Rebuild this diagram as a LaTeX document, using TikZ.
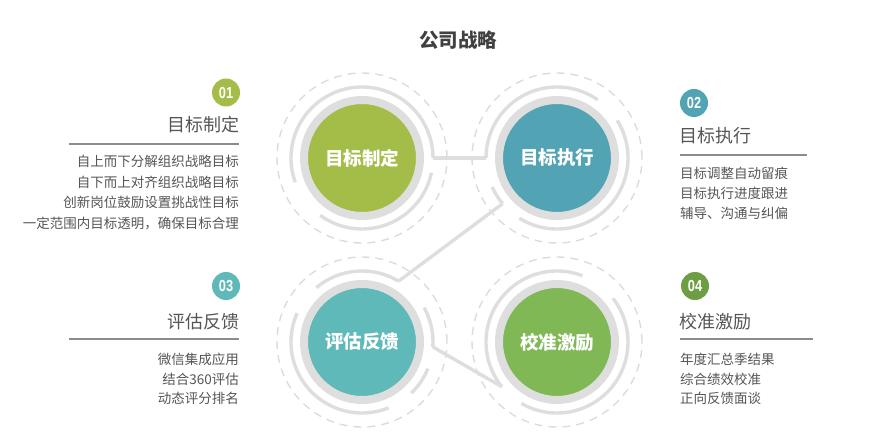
\documentclass[tikz,border=0pt]{standalone}
\usepackage{fontspec}
\setmainfont{Noto Sans CJK SC}
\newfontfamily\numfont[FakeStretch=0.8]{Liberation Sans}
\usepackage{tikz}
\usetikzlibrary{calc, positioning}
\definecolor{ringgray}{HTML}{DEDEDE}
\definecolor{dashgray}{HTML}{DCDCDC}
\definecolor{titlegray}{HTML}{404040}
\definecolor{textgray}{HTML}{555555}
\definecolor{rulegray}{HTML}{8C8C8C}
\definecolor{setcol}{HTML}{A4BD48}
\definecolor{runcol}{HTML}{52A3B3}
\definecolor{evalcol}{HTML}{5FB9B9}
\definecolor{tunecol}{HTML}{7FB855}
\definecolor{tunebadge}{HTML}{6E9E44}
\newcommand{\trackarc}[3]{%
    \draw[track] ([shift={(#2:71)}]#1.center)
        arc[start angle=#2, end angle=#3, radius=71];
}
\tikzset{
    core/.style={
        circle, minimum size=116pt, inner sep=0pt,
        draw=ringgray, line width=8pt, text=white,
        font=\bfseries\fontsize{18.5}{18.5}\selectfont
    },
    track/.style={ringgray, line width=3.4pt},
    dashring/.style={dashgray, line width=1.4pt, dash pattern=on 8pt off 6pt},
    badge/.style={
        circle, minimum size=28pt, inner sep=0pt, text=white,
        font=\numfont\bfseries\fontsize{16}{16}\selectfont
    },
    heading/.style={
        inner sep=0pt, text=textgray, font=\fontsize{18}{18}\selectfont
    },
    itemlist/.style={
        inner sep=0pt, text=textgray, font=\fontsize{13.5}{20.5}\selectfont
    },
    rule/.style={rulegray, line width=1.2pt},
}
\begin{document}
\begin{tikzpicture}[x=1pt, y=1pt]
    \useasboundingbox (0,0) rectangle (870,-446);
    \node[font=\bfseries\fontsize{19.5}{19.5}\selectfont, text=titlegray]
        (title) at (458,-40) {公司战略};

    % circles
    \foreach \name/\x/\y/\col/\txt in {
        c1/362/158/setcol/目标制定, c2/557/158/runcol/目标执行,
        c3/362/342/evalcol/评估反馈, c4/557/342/tunecol/校准激励} {
        \draw[dashring] (\x,-\y) circle (85);
        \node[core, fill=\col] (\name) at (\x,-\y) {\txt};
    }

    % broken tracks
    \trackarc{c1}{0}{200}
    \trackarc{c1}{234}{348}
    \trackarc{c2}{55}{180}
    \trackarc{c2}{-122}{32}
    \trackarc{c2}{204}{220}
    \trackarc{c3}{59}{130}
    \trackarc{c3}{156}{292}
    \trackarc{c3}{-46}{-22}
    \trackarc{c3}{-4}{29}
    \trackarc{c4}{69}{219}
    \trackarc{c4}{-120}{38}

    % links
    \coordinate (c1out) at ($(c1.center)+(0:71)$);
    \coordinate (c2in)  at ($(c2.center)+(180:71)$);
    \coordinate (c2out) at ($(c2.center)+(220:71)$);
    \coordinate (c3in)  at ($(c3.center)+(59:71)$);
    \coordinate (c3out) at ($(c3.center)+(-4:71)$);
    \coordinate (c4in)  at ($(c4.center)+(219:71)$);
    \draw[track] (c1out) -- (c2in);
    \draw[track] (c2out) -- (c3in);
    \draw[track] (c3out) -- (c4in);

    % 01
    \node[badge, fill=setcol] (b1) at (226,-92.5) {01};
    \node[heading, anchor=east] (h1) at (240,-125) {目标制定};
    \draw[rule] (69,-144) -- (239,-144);
    \node[itemlist, anchor=north east, align=right] (l1) at (239,-155) {%
        自上而下分解组织战略目标\\
        自下而上对齐组织战略目标\\
        创新岗位鼓励设置挑战性目标\\
        一定范围内目标透明，确保目标合理};

    % 02
    \node[badge, fill=runcol] (b2) at (694,-103) {02};
    \node[heading, anchor=west] (h2) at (679,-136) {目标执行};
    \draw[rule] (680,-155) -- (807,-155);
    \node[itemlist, anchor=north west, align=left,
        font=\fontsize{13.5}{20}\selectfont] (l2) at (680,-167) {%
        目标调整自动留痕\\
        目标执行进度跟进\\
        辅导、沟通与纠偏};

    % 03
    \node[badge, fill=evalcol] (b3) at (226,-286) {03};
    \node[heading, anchor=east] (h3) at (240,-322) {评估反馈};
    \draw[rule] (69,-339) -- (239,-339);
    \node[itemlist, anchor=north east, align=right,
        font=\fontsize{13.5}{19.5}\selectfont] (l3) at (239,-353) {%
        微信集成应用\\
        结合360评估\\
        动态评分排名};

    % 04
    \node[badge, fill=tunebadge] (b4) at (695,-286) {04};
    \node[heading, anchor=west] (h4) at (679,-322) {校准激励};
    \draw[rule] (680,-339) -- (813,-339);
    \node[itemlist, anchor=north west, align=left,
        font=\fontsize{13.5}{19.5}\selectfont] (l4) at (680,-353) {%
        年度汇总季结果\\
        综合绩效校准\\
        正向反馈面谈};
\end{tikzpicture}
\end{document}
